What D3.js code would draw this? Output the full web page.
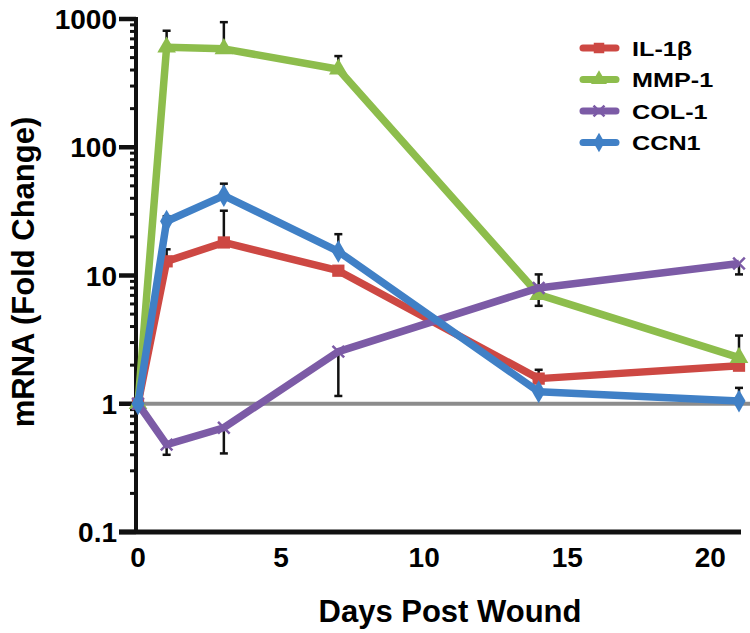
<!DOCTYPE html>
<html>
<head>
<meta charset="utf-8">
<script src="https://cdn.jsdelivr.net/npm/d3@7"></script>
<style>
  body { margin: 0; background: #fff; }
  text { font-family: "Liberation Sans", Arial, sans-serif; font-weight: bold; }
</style>
</head>
<body>
<svg id="chart" width="750" height="633"></svg>
<script>
// days sampled after wounding
const days = [0, 1, 3, 7, 14, 21]

const il1b = [1, 12.9, 18.1, 10.9, 1.57, 1.98]
const mmp1 = [1, 603, 585, 406, 7.1, 2.29]
const col1 = [1, 0.48, 0.65, 2.55, 8.0, 12.4]
const ccn1 = [1, 26.5, 42, 15.4, 1.24, 1.05]

// end of each (one-sided) error bar, null = none drawn
const il1bErr = [null, 16, 32, null, 1.84, null]
const mmp1Err = [null, 810, 945, 514, 5.8, 3.4]
const col1Err = [null, 0.40, 0.41, 1.15, 10.2, 10.2]
const ccn1Err = [null, 29, 52, 21, null, 1.33]

const seriesNames = ["IL-1\u03b2", "MMP-1", "COL-1", "CCN1"]
const xTicks = [0, 5, 10, 15, 20]
const yTicks = [0.1, 1, 10, 100, 1000]

const series = [
    { name: seriesNames[0], values: il1b, err: il1bErr, color: "#cd4843", shape: d3.symbolSquare },
    { name: seriesNames[1], values: mmp1, err: mmp1Err, color: "#8dbd4c", shape: d3.symbolTriangle },
    { name: seriesNames[2], values: col1, err: col1Err, color: "#7c5ba6", shape: d3.symbolX },
    { name: seriesNames[3], values: ccn1, err: ccn1Err, color: "#4080c6", shape: d3.symbolDiamond }
]

const svg = d3.select("#chart")

let x = d3.scaleLinear().domain([0, 21]).range([138, 739])
let y = d3.scaleLog().domain([0.1, 1000]).range([532, 19])

// baseline at fold change = 1
svg.append("line")
    .attr("x1", 136).attr("x2", 750)
    .attr("y1", y(1)).attr("y2", y(1))
    .attr("stroke", "#8c8c8c")
    .attr("stroke-width", 4)

// y axis with log minor ticks
let minor = []
for (let p = -1; p < 3; p++) {
    for (let m = 2; m < 10; m++) minor.push(m * Math.pow(10, p))
}
let yAxis = svg.append("g")
yAxis.selectAll(".minor").data(minor).join("line")
    .attr("x1", 130).attr("x2", 136)
    .attr("y1", d => y(d)).attr("y2", d => y(d))
    .attr("stroke", "#111").attr("stroke-width", 3)
yAxis.selectAll(".major").data(yTicks).join("line")
    .attr("x1", 119).attr("x2", 136)
    .attr("y1", d => y(d)).attr("y2", d => y(d))
    .attr("stroke", "#111").attr("stroke-width", 4.5)
yAxis.append("line")
    .attr("x1", 136).attr("x2", 136)
    .attr("y1", y(1000) - 2).attr("y2", y(0.1))
    .attr("stroke", "#111").attr("stroke-width", 4)
yAxis.selectAll("text").data(yTicks).join("text")
    .attr("x", 117)
    .attr("y", d => y(d))
    .attr("dy", "0.36em")
    .attr("text-anchor", "end")
    .attr("font-size", 28)
    .text(d => d3.format("")(d))

// x axis
svg.append("line")
    .attr("x1", 119).attr("x2", 741)
    .attr("y1", 532).attr("y2", 532)
    .attr("stroke", "#111").attr("stroke-width", 5)
svg.append("g").selectAll("text").data(xTicks).join("text")
    .attr("x", d => x(d))
    .attr("y", 567)
    .attr("text-anchor", "middle")
    .attr("font-size", 28)
    .text(d => d)

// axis titles
svg.append("text")
    .attr("x", 450).attr("y", 622)
    .attr("text-anchor", "middle")
    .attr("font-size", 31)
    .text("Days Post Wound")
svg.append("text")
    .attr("transform", "translate(34,272) rotate(-90)")
    .attr("text-anchor", "middle")
    .attr("font-size", 31)
    .text("mRNA (Fold Change)")

let line = d3.line()
    .x((d, i) => x(days[i]))
    .y(d => y(d))

// error bars under the lines
series.forEach(s => {
    let g = svg.append("g")
    s.err.forEach((e, i) => {
        if (e == null) return
        let cx = x(days[i])
        g.append("line")
            .attr("x1", cx).attr("x2", cx)
            .attr("y1", y(s.values[i])).attr("y2", y(e))
            .attr("stroke", "#111").attr("stroke-width", 2.5)
        g.append("line")
            .attr("x1", cx - 4).attr("x2", cx + 4)
            .attr("y1", y(e)).attr("y2", y(e))
            .attr("stroke", "#111").attr("stroke-width", 2.5)
    })
})

series.forEach(s => {
    svg.append("path")
        .datum(s.values)
        .attr("fill", "none")
        .attr("stroke", s.color)
        .attr("stroke-width", 7.5)
        .attr("stroke-linejoin", "round")
        .attr("d", line)
    let isX = s.shape === d3.symbolX
    let sym = d3.symbol().type(s.shape).size(isX ? 90 : 150)
    svg.append("g").selectAll("path").data(s.values).join("path")
        .attr("transform", (d, i) => `translate(${x(days[i])},${y(d)})`)
        .attr("d", sym)
        .attr("fill", s.color)
        .attr("stroke", s.color)
        .attr("stroke-width", isX ? 2.5 : 0)
})

// legend
let legend = svg.append("g")
series.forEach((s, i) => {
    let ly = 48 + i * 31.5
    let isX = s.shape === d3.symbolX
    legend.append("line")
        .attr("x1", 583).attr("x2", 616)
        .attr("y1", ly).attr("y2", ly)
        .attr("stroke", s.color)
        .attr("stroke-width", 7)
        .attr("stroke-linecap", "round")
    legend.append("path")
        .attr("transform", `translate(599,${ly})`)
        .attr("d", d3.symbol().type(s.shape).size(isX ? 80 : 110))
        .attr("fill", s.color)
        .attr("stroke", s.color)
        .attr("stroke-width", isX ? 2.5 : 0)
    legend.append("text")
        .attr("transform", `translate(632,${ly + 7.5}) scale(1.2,1)`)
        .attr("font-size", 21)
        .text(s.name)
})
</script>
</body>
</html>
